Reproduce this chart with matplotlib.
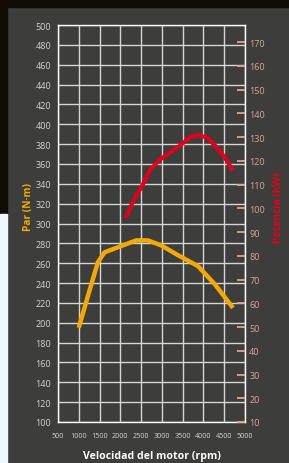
import matplotlib
matplotlib.use('Agg')
import matplotlib.pyplot as plt
from matplotlib.patches import Rectangle

plt.rcParams['font.family'] = ['Open Sans', 'DejaVu Sans']

# torque curve (N·m)
rpm_par = [1000, 1220, 1460, 1620, 1940, 2380, 2660, 2980, 3390, 3870, 4270, 4710]
par = [195, 227, 261, 271, 276, 283, 283, 278, 268, 257, 239, 215]

# power curve (kW)
rpm_pot = [2130, 2310, 2510, 2710, 2950, 3230, 3430, 3670, 3870, 4080, 4320, 4510, 4710]
pot = [96, 103, 109, 116, 120.5, 124, 126.3, 129.9, 130.8, 129.9, 125.7, 121.5, 115.8]

x_ticks = list(range(500, 5001, 500))
par_ticks = list(range(100, 501, 20))
pot_ticks = list(range(10, 171, 10))

panel = '#3d3d3b'
fig = plt.figure(figsize=(2.89, 4.64), dpi=100, facecolor=panel)

# outer strips around the dark panel
fig.patches.append(Rectangle((0, 1 - 8/464), 1, 8/464, transform=fig.transFigure,
                             color='#100c05', zorder=0))
fig.patches.append(Rectangle((0, (464-215)/464), 7/289, 215/464, transform=fig.transFigure,
                             color='#100c05', zorder=0))
fig.patches.append(Rectangle((0, 0), 7/289, (464-215)/464, transform=fig.transFigure,
                             color='#eef7fd', zorder=0))

ax = fig.add_axes([58/289, 41/464, 187/289, 397/464])
ax.set_facecolor(panel)
ax.set_xlim(500, 5000)
ax.set_ylim(100, 500)
ax.set_xticks(x_ticks)
ax.set_yticks(par_ticks)
ax.grid(True, color='#d6d6d6', lw=1)
ax.set_axisbelow(True)
ax.tick_params(axis='both', length=0)
ax.tick_params(axis='y', labelsize=6.5, labelcolor='#d4d4d4', pad=5)
ax.tick_params(axis='x', labelsize=5.2, labelcolor='#d4d4d4', pad=7)
for s in ax.spines.values():
    s.set_color('white')
    s.set_linewidth(1)

ax.plot(rpm_par, par, color='#f5a800', lw=3.2, solid_capstyle='butt', zorder=3)

ax2 = ax.twinx()
ax2.set_ylim(10, 177.2)
ax2.set_yticks(pot_ticks)
ax2.tick_params(axis='y', direction='in', length=5.5, width=1.3, color='#e6a58a',
                labelsize=6.5, labelcolor='#dba896', pad=3)
for s in ax2.spines.values():
    s.set_visible(False)
ax2.plot(rpm_pot, pot, color='#e3001b', lw=3, solid_capstyle='butt', zorder=3)

ax.set_xlabel('Velocidad del motor (rpm)', color='white', fontsize=7.6, fontweight='bold',
              labelpad=8)
fig.text(28/289, 1 - 207/464, 'Par (N·m)', color='#f5a800', fontsize=7.4,
         fontweight='bold', rotation=90, ha='center', va='center')
fig.text(278/289, 1 - 208/464, 'Potencia (kW)', color='#e3001b', fontsize=7.4,
         fontweight='bold', rotation=90, ha='center', va='center')

fig.savefig('out.png', dpi=100, facecolor=panel)
